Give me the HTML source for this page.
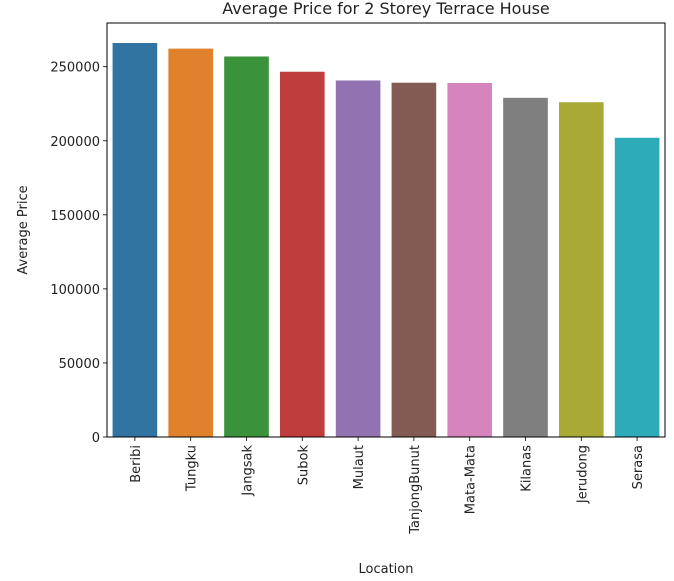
<!DOCTYPE html>
<html><head><meta charset="utf-8"><style>
body{margin:0;background:#fff;}
svg{display:block;font-family:"DejaVu Sans","Liberation Sans",sans-serif;}
</style></head><body>
<svg id="chart" width="674" height="581"></svg>
<script>
const categories=["Beribi","Tungku","Jangsak","Subok","Mulaut","TanjongBunut","Mata-Mata","Kilanas","Jerudong","Serasa"];
const values=[266000,262200,256900,246600,240700,239200,239000,229000,226000,202000];
const yTicks=[0,50000,100000,150000,200000,250000];
const colors=["#3274a1","#e1812c","#3a923a","#c03d3e","#9372b2","#845b53","#d684bd","#7f7f7f","#a9aa35","#2eabb8"];
const NS="http://www.w3.org/2000/svg";
const svg=document.getElementById('chart');
const L=107,R=665,T=23,B=437;
const y=v=>B-v/250000*(B-66.7);
const slot=(R-L)/categories.length;
const x=i=>L+slot*i+slot*0.1;
function mk(t,a,txt){const e=document.createElementNS(NS,t);for(const k in a)e.setAttribute(k,a[k]);if(txt!=null)e.textContent=txt;svg.appendChild(e);return e;}
let e=mk('text',{x:386,y:14,'text-anchor':'middle','font-size':16,fill:'#222'},'Average Price for 2 Storey Terrace House');


categories.forEach((c,i)=>{
 const b=mk('rect',{x:x(i),y:y(values[i]),width:slot*0.8,height:B-y(values[i]),fill:colors[i]});
 
 
 const cx=x(i)+slot*0.4;
 mk('line',{x1:cx,x2:cx,y1:B,y2:B+4,stroke:'#000','stroke-width':0.8});
 const t=mk('text',{x:0,y:0,transform:`translate(${cx+5},${B+8}) rotate(-90)`,'text-anchor':'end','font-size':13,fill:'#222'},c);
 
 
});
yTicks.forEach(v=>{
 mk('line',{x1:L-4,x2:L,y1:y(v),y2:y(v),stroke:'#000','stroke-width':0.8});
 const t=mk('text',{x:L-7,y:y(v)+5,'text-anchor':'end','font-size':13,fill:'#222'},String(v));
 
 
});
e=mk('rect',{x:L,y:T,width:R-L,height:B-T,fill:'none',stroke:'#000','stroke-width':1});


e=mk('text',{x:0,y:0,transform:'translate(27,230) rotate(-90)','text-anchor':'middle','font-size':13,fill:'#222'},'Average Price');


e=mk('text',{x:386,y:573,'text-anchor':'middle','font-size':13,fill:'#222'},'Location');


</script>
</body></html>
